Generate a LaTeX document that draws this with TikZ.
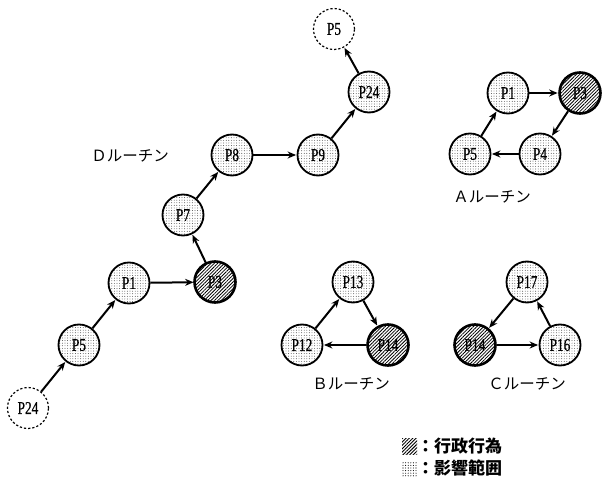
\documentclass[tikz,border=0pt]{standalone}
\usepackage{fontspec}
\setmainfont{Liberation Serif}
\newfontfamily\plab[FakeStretch=0.74, FakeBold=0.6]{Liberation Serif}
\newfontfamily\jp{Noto Sans CJK JP}
\usetikzlibrary{patterns,patterns.meta,arrows.meta}

\begin{document}
\begin{tikzpicture}[x=1pt,y=-1pt,
  base/.style={circle, minimum size=41pt, inner sep=0pt,
    font=\plab\fontsize{18}{18}\selectfont},
  impact/.style={base, draw, line width=1.8pt,
    pattern={Dots[radius=0.45pt, distance=2.6pt]}, pattern color=black!80},
  action/.style={base, draw, line width=2.6pt,
    pattern={Lines[angle=45, distance=2.4pt, line width=0.8pt]}, pattern color=black},
  outer/.style={base, draw, line width=1.2pt, dash pattern=on 2.2pt off 2pt},
  flow/.style={line width=2pt, -{Stealth[length=8.5pt,width=7pt]}, shorten >=0.5pt},
  routine/.style={font=\jp\fontsize{15.5}{15.5}\selectfont, inner sep=0pt},
  legend/.style={font=\jp\bfseries\fontsize{17}{17}\selectfont, anchor=west, inner sep=0pt}
]
\useasboundingbox (0,0) rectangle (613,481);

% D routine
\node[outer]  (d24a) at (28,408) {P24};
\node[impact] (d5)   at (79,345) {P5};
\node[impact] (d1)   at (129,283) {P1};
\node[action] (d3)   at (215,282) {P3};
\node[impact] (d7)   at (183,215) {P7};
\node[impact] (d8)   at (232,155) {P8};
\node[impact] (d9)   at (318,155) {P9};
\node[impact] (d24b) at (369,92) {P24};
\node[outer]  (d5b)  at (334,29) {P5};
\node[routine] (dlab) at (130,156) {Ｄルーチン};
\draw[flow] (d24a) -- (d5);
\draw[flow] (d5) -- (d1);
\draw[flow] (d1) -- (d3);
\draw[flow] (d3) -- (d7);
\draw[flow] (d7) -- (d8);
\draw[flow] (d8) -- (d9);
\draw[flow] (d9) -- (d24b);
\draw[flow] (d24b) -- (d5b);

% A routine
\node[impact] (a1) at (508,93) {P1};
\node[action] (a3) at (580,93) {P3};
\node[impact] (a4) at (540,154) {P4};
\node[impact] (a5) at (470,154) {P5};
\node[routine] (alab) at (492,197) {Ａルーチン};
\draw[flow] (a1) -- (a3);
\draw[flow] (a3) -- (a4);
\draw[flow] (a4) -- (a5);
\draw[flow] (a5) -- (a1);

% B routine
\node[impact] (b13) at (353,282) {P13};
\node[impact] (b12) at (302,345) {P12};
\node[action] (b14) at (388,345) {P14};
\node[routine] (blab) at (351,384) {Ｂルーチン};
\draw[flow] (b12) -- (b13);
\draw[flow] (b13) -- (b14);
\draw[flow] (b14) -- (b12);

% C routine
\node[impact] (c17) at (527,282) {P17};
\node[action] (c14) at (475,345) {P14};
\node[impact] (c16) at (560,345) {P16};
\node[routine] (clab) at (527,384) {Ｃルーチン};
\draw[flow] (c17) -- (c14);
\draw[flow] (c14) -- (c16);
\draw[flow] (c16) -- (c17);

% legend
\fill[pattern={Lines[angle=45, distance=2.4pt, line width=0.9pt]}, pattern color=black] (402,438) rectangle (417,454);
\node[legend] (l1) at (417,446) {：行政行為};
\fill[pattern={Dots[radius=0.55pt, distance=2.6pt]}, pattern color=black] (402,461) rectangle (417,476);
\node[legend] (l2) at (417,468) {：影響範囲};
\end{tikzpicture}
\end{document}
